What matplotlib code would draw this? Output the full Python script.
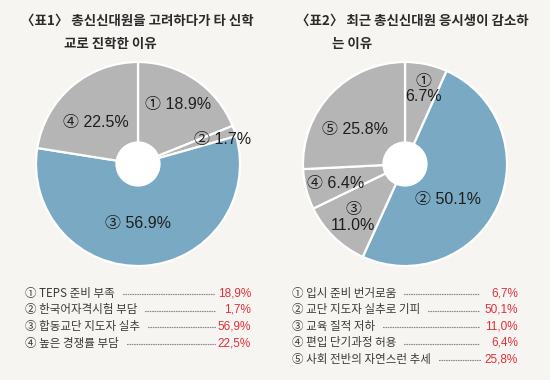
import numpy as np
import matplotlib
matplotlib.use("Agg")
import matplotlib.pyplot as plt
from matplotlib.patches import Circle

plt.rcParams["font.family"] = ["Noto Sans CJK KR", "DejaVu Sans"]
NUMFONT = ["Liberation Sans", "Noto Sans CJK KR"]

# ── data ─────────────────────────────────────────────────────────────────────
title1 = ["〈표1〉 총신신대원을 고려하다가 타 신학", "교로 진학한 이유"]
items1 = ["① TEPS 준비 부족", "② 한국어자격시험 부담", "③ 합동교단 지도자 실추", "④ 높은 경쟁률 부담"]
nums1 = ["①", "②", "③", "④"]
vals1 = [18.9, 1.7, 56.9, 22.5]
hi1 = 2                                   # highlighted slice (blue)

title2 = ["〈표2〉 최근 총신신대원 응시생이 감소하", "는 이유"]
items2 = ["① 입시 준비 번거로움", "② 교단 지도자 실추로 기피", "③ 교육 질적 저하",
          "④ 편입 단기과정 허용", "⑤ 사회 전반의 자연스런 추세"]
nums2 = ["①", "②", "③", "④", "⑤"]
vals2 = [6.7, 50.1, 11.0, 6.4, 25.8]
hi2 = 1

# ── styles ───────────────────────────────────────────────────────────────────
BG = "#f6f5f1"
GREY = "#b5b5b5"
BLUE = "#7aa9c4"
RED = "#e0303a"
TXT = "#2b2b2b"

W, H = 550, 380
fig = plt.figure(figsize=(W / 100, H / 100), dpi=100, facecolor=BG)

# overlay axes in pixel coordinates (y down)
ov = fig.add_axes([0, 0, 1, 1], zorder=5)
ov.set_xlim(0, W)
ov.set_ylim(H, 0)
ov.axis("off")
ov.patch.set_alpha(0)


def donut(cx, cy, r, vals, nums, hi, lab_r, lab_da, two_line):
    ax = fig.add_axes([(cx - r) / W, (H - cy - r) / H, 2 * r / W, 2 * r / H])
    ax.set_xlim(-1, 1)
    ax.set_ylim(-1, 1)
    ax.axis("off")
    cols = [BLUE if i == hi else GREY for i in range(len(vals))]
    wedges, _ = ax.pie(vals, colors=cols, startangle=90, counterclock=False, radius=1,
                       wedgeprops=dict(edgecolor="white", linewidth=1.6))
    ax.add_patch(Circle((0, 0), 0.215, color="white", zorder=3))
    ax.set_xlim(-1, 1)
    ax.set_ylim(-1, 1)
    for i, w in enumerate(wedges):
        ang = np.deg2rad((w.theta1 + w.theta2) / 2 + lab_da[i])
        x, y = lab_r[i] * np.cos(ang), lab_r[i] * np.sin(ang)
        if two_line[i]:
            s = f"{nums[i]}\n{vals[i]:.1f}%"
        else:
            s = f"{nums[i]} {vals[i]:.1f}%"
        ax.text(x, y, s, ha="center", va="center", fontsize=11.5, color="#1e1e1e",
                family=NUMFONT, linespacing=1.05, zorder=4)


def legend(x0, y0, dy, items, vals, dot_end, pct_right):
    fig.canvas.draw()
    rend = fig.canvas.get_renderer()
    inv = ov.transData.inverted()
    for i, (s, v) in enumerate(zip(items, vals)):
        y = y0 + i * dy
        t = ov.text(x0, y, s, ha="left", va="center", fontsize=8.3, color="#3a3a3a")
        bb = t.get_window_extent(renderer=rend)
        xe = inv.transform((bb.x1, bb.y0))[0]
        ov.plot([xe + 8, dot_end], [y + 1, y + 1], color="#888888", lw=0.9,
                linestyle=(0, (0.5, 1.4)), dash_capstyle="round")
        ov.text(pct_right, y, f"{v:.1f}%".replace(".", ","), ha="right", va="center",
                fontsize=8.5, color=RED, family=NUMFONT)


# titles
TFS = 9.7
ov.text(21, 21, title1[0], ha="left", va="center", fontsize=TFS, weight="bold", color=TXT)
ov.text(64, 44, title1[1], ha="left", va="center", fontsize=TFS, weight="bold", color=TXT)
ov.text(296, 21, title2[0], ha="left", va="center", fontsize=TFS, weight="bold", color=TXT)
ov.text(332, 44, title2[1], ha="left", va="center", fontsize=TFS, weight="bold", color=TXT)

donut(138, 164, 102, vals1, nums1, hi1,
      lab_r=[0.70, 0.86, 0.58, 0.58], lab_da=[0, -3, -3, 5],
      two_line=[False, False, False, False])
donut(405, 164, 102, vals2, nums2, hi2,
      lab_r=[0.76, 0.55, 0.73, 0.71, 0.60], lab_da=[-2, -15, 0, 1, 9],
      two_line=[True, False, True, False, False])

legend(25, 293, 16.7, items1, vals1, 215, 251)
legend(292, 293, 16.6, items2, vals2, 480, 518)

fig.savefig("out.png", dpi=100, facecolor=BG)
